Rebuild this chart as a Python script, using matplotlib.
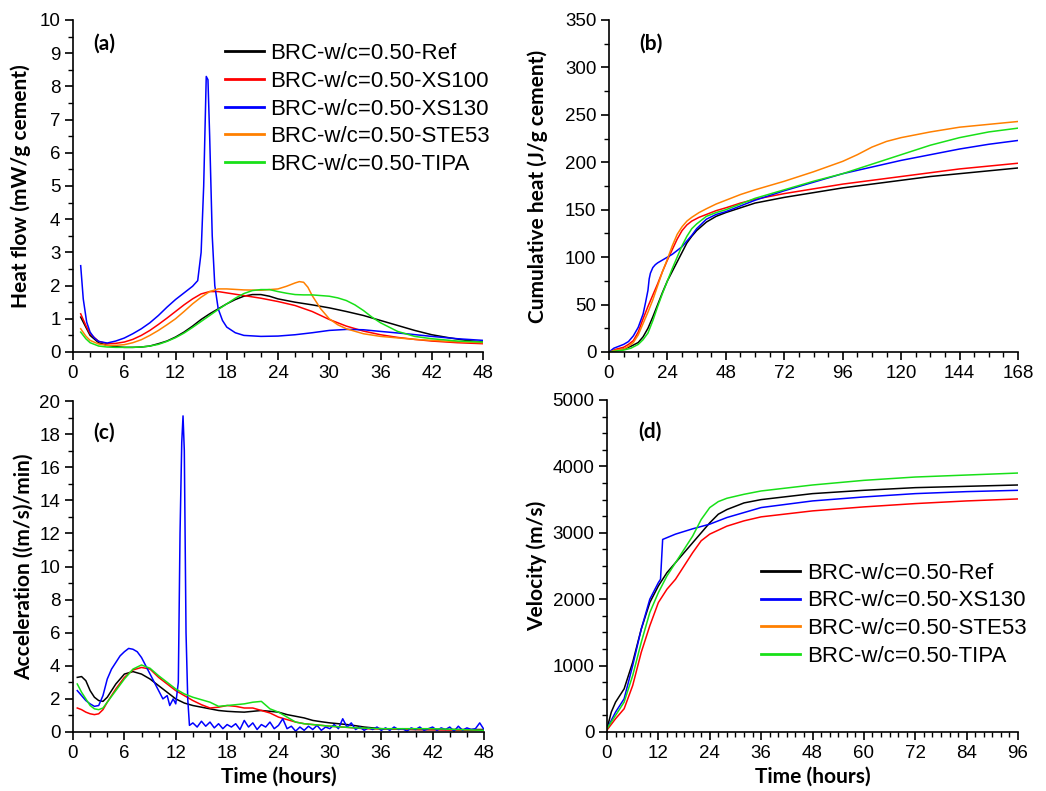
import matplotlib
matplotlib.use("Agg")
import matplotlib.pyplot as plt
from matplotlib.lines import Line2D
from matplotlib.ticker import MultipleLocator

plt.rcParams['font.family'] = ['Liberation Sans', 'DejaVu Sans']

# ---------------- data ----------------
labels5 = ["BRC-w/c=0.50-Ref", "BRC-w/c=0.50-XS100", "BRC-w/c=0.50-XS130",
           "BRC-w/c=0.50-STE53", "BRC-w/c=0.50-TIPA"]
colors = {"Ref": "#000000", "XS100": "#ff0000", "XS130": "#0000ff",
          "STE53": "#ff8000", "TIPA": "#18e018"}

# (a) heat flow
a_ref_t = [0.9,1.5,2,3,4,5,6,7,8,9,10,11,12,13,14,15,16,17,18,19,20,21,22,23,24,26,28,30,32,34,36,38,40,42,44,46,48]
a_ref_v = [1.05,0.75,0.5,0.28,0.2,0.16,0.14,0.14,0.15,0.18,0.25,0.33,0.45,0.6,0.78,0.98,1.15,1.3,1.45,1.58,1.68,1.73,1.73,1.68,1.6,1.5,1.42,1.33,1.22,1.1,0.95,0.8,0.65,0.52,0.43,0.35,0.3]
a_xs100_t = [0.9,1.5,2,3,4,5,6,7,8,9,10,11,12,13,14,15,16,17,18,20,22,24,26,28,29,30,32,34,36,38,40,42,45,48]
a_xs100_v = [1.15,0.8,0.55,0.32,0.25,0.26,0.3,0.38,0.5,0.65,0.83,1.02,1.22,1.42,1.6,1.75,1.82,1.82,1.78,1.7,1.62,1.52,1.4,1.22,1.1,0.98,0.78,0.63,0.52,0.44,0.38,0.33,0.28,0.25]
a_xs130_t = [0.9,1.2,1.6,2.0,2.5,3.0,4.0,5.0,6.0,7.0,8.0,9.0,10,11,12,13,14,14.6,15.0,15.3,15.6,15.8,16.0,16.3,16.6,17.0,17.5,18,19,20,22,24,26,28,30,32,34,36,39,42,45,48]
a_xs130_v = [2.6,1.6,0.9,0.6,0.42,0.32,0.27,0.33,0.42,0.55,0.7,0.88,1.1,1.35,1.58,1.78,1.98,2.15,3.0,5.0,8.3,8.2,6.5,3.5,2.0,1.3,0.95,0.75,0.58,0.5,0.47,0.48,0.52,0.58,0.65,0.68,0.67,0.62,0.55,0.47,0.4,0.35]
a_ste53_t = [0.9,1.5,2,3,4,5,6,7,8,9,10,11,12,13,14,15,16,17,18,20,22,24,25,26,26.5,27,27.5,28,29,30,31,32,34,36,40,44,48]
a_ste53_v = [0.7,0.48,0.35,0.24,0.2,0.2,0.22,0.28,0.37,0.5,0.65,0.82,1.0,1.22,1.45,1.65,1.82,1.9,1.9,1.87,1.86,1.9,1.98,2.08,2.12,2.1,1.95,1.7,1.3,1.0,0.82,0.7,0.55,0.47,0.38,0.32,0.28]
a_tipa_t = [0.9,1.5,2,3,4,5,6,7,8,9,10,11,12,13,14,15,16,17,18,19,20,21,22,23,24,25,26,27,28,29,30,31,32,33,34,35,36,38,40,42,45,48]
a_tipa_v = [0.6,0.4,0.28,0.18,0.15,0.14,0.14,0.14,0.15,0.18,0.23,0.32,0.43,0.57,0.74,0.92,1.1,1.28,1.45,1.62,1.76,1.85,1.88,1.88,1.82,1.77,1.73,1.72,1.72,1.7,1.68,1.63,1.55,1.42,1.25,1.05,0.88,0.62,0.47,0.4,0.33,0.3]

# (b) cumulative heat
b_ref_t = [0,3,6,9,12,14,16,18,20,22,24,26,28,30,32,34,36,40,44,48,54,60,72,84,96,108,120,132,144,156,168]
b_ref_v = [0,2,3,6,10,16,25,37,50,63,75,85,95,105,115,122,128,137,143,147,152,157,163,168,173,177,181,185,188,191,194]
b_xs100_t = [0,3,6,8,10,12,14,16,18,20,22,24,26,28,30,32,34,37,40,44,48,54,60,72,84,96,108,120,132,144,156,168]
b_xs100_v = [0,3,5,8,12,21,35,48,60,72,85,97,108,119,128,134,138,142,145,149,152,157,161,167,172,177,181,185,189,193,196,199]
b_xs130_t = [0,2,4,6,8,10,12,14,15,16,16.5,17,18,19,20,22,24,26,28,30,32,34,36,38,40,44,48,54,60,72,84,96,108,120,132,144,156,168]
b_xs130_v = [0,4,6,8,11,17,26,40,52,65,77,83,89,92,94,97,100,103,107,111,117,123,130,135,140,145,148,154,160,170,179,188,195,202,208,214,219,223]
b_ste53_t = [0,3,6,8,10,12,14,16,18,20,22,24,26,28,30,32,34,37,40,44,48,54,60,72,84,96,102,108,114,120,126,132,144,156,168]
b_ste53_v = [0,2,3,6,10,18,30,42,55,70,85,98,112,124,132,138,142,147,151,156,160,166,171,180,190,201,208,216,222,226,229,232,237,240,243]
b_tipa_t = [0,3,6,9,12,14,16,18,20,22,24,26,28,30,32,34,36,40,44,48,54,60,72,84,96,108,120,132,144,156,168]
b_tipa_v = [0,1,2,4,8,13,20,33,48,62,75,88,100,112,122,130,135,143,147,150,156,162,171,180,188,198,208,218,226,232,236]

# (c) acceleration
c_ref_t = [0.5,1,1.5,2,2.5,3,3.5,4,5,6,7,8,9,10,11,12,13,14,15,16,17,18,19,20,21,22,23,24,25,26,27,28,29,30,31,32,33,34,35,36,38,40,42,44,46,48]
c_ref_v = [3.3,3.35,3.1,2.5,2.1,1.9,1.85,2.1,2.9,3.5,3.65,3.5,3.2,2.8,2.4,2.0,1.75,1.6,1.5,1.4,1.3,1.25,1.22,1.2,1.25,1.3,1.25,1.2,1.05,0.95,0.85,0.7,0.62,0.55,0.5,0.45,0.38,0.3,0.25,0.2,0.17,0.15,0.15,0.15,0.15,0.15]
c_xs100_t = [0.5,1,1.5,2,2.5,3,3.5,4,5,6,7,8,9,10,11,12,13,14,15,16,17,18,19,20,21,22,23,24,25,26,27,28,30,32,34,36,40,44,48]
c_xs100_v = [1.45,1.35,1.2,1.1,1.05,1.1,1.35,1.8,2.6,3.3,3.75,3.9,3.8,3.3,2.9,2.5,2.2,1.9,1.65,1.45,1.5,1.6,1.55,1.45,1.45,1.3,1.15,0.9,0.75,0.6,0.5,0.45,0.35,0.28,0.2,0.18,0.15,0.12,0.1]
c_xs130_t = [0.5,1,1.5,2,2.5,3,3.5,4,4.5,5,5.5,6,6.5,7,7.5,8,8.5,9,9.5,10,10.5,11,11.3,11.7,12,12.3,12.5,12.7,12.85,13.0,13.2,13.4,13.6,
             14.0,14.5,15.0,15.5,16.0,16.5,17.0,17.5,18.0,18.5,19.0,19.5,20.0,20.5,21.0,21.5,22.0,22.5,23.0,23.5,24.0,24.5,25.0,25.5,26.0,26.5,27.0,27.5,28.0,28.5,29.0,29.5,30.0,30.5,31.0,31.5,32.0,32.5,33.0,33.5,34.0,34.5,35.0,35.5,36.0,36.5,37.0,37.5,38.0,38.5,39.0,39.5,40.0,40.5,41.0,41.5,42.0,42.5,43.0,43.5,44.0,44.5,45.0,45.5,46.0,46.5,47.0,47.5,48.0]
c_xs130_v = [2.5,2.2,1.9,1.7,1.55,1.6,2.2,3.2,3.8,4.2,4.6,4.85,5.05,5.0,4.85,4.5,4.0,3.5,3.0,2.5,2.0,2.2,1.6,2.0,1.7,3.0,12.0,17.5,19.1,17.0,6.0,2.0,0.4,
             0.55,0.3,0.65,0.35,0.6,0.25,0.5,0.2,0.45,0.3,0.5,0.15,0.7,0.3,0.55,0.15,0.45,0.3,0.6,0.2,0.4,0.8,0.2,0.35,0.05,0.3,0.1,0.35,0.15,0.4,0.1,0.3,0.2,0.45,0.2,0.8,0.3,0.55,0.15,0.3,0.1,0.25,0.15,0.3,0.1,0.25,0.1,0.3,0.15,0.2,0.05,0.25,0.15,0.3,0.1,0.2,0.3,0.1,0.25,0.15,0.3,0.05,0.35,0.1,0.25,0.15,0.2,0.55,0.15]
c_tipa_t = [0.5,1,1.5,2,2.5,3,3.5,4,5,6,7,8,9,10,11,12,13,14,15,16,17,18,19,20,21,22,23,24,25,26,27,28,30,33,36,39,42,45,48]
c_tipa_v = [2.9,2.4,2.0,1.6,1.4,1.35,1.45,1.8,2.5,3.2,3.8,4.05,3.85,3.4,3.0,2.6,2.3,2.1,1.95,1.8,1.55,1.6,1.65,1.7,1.8,1.85,1.4,1.2,0.9,0.6,0.5,0.45,0.35,0.25,0.2,0.2,0.2,0.15,0.1]

# (d) velocity
d_ref_t = [0,1,2,4,6,8,10,12,14,16,18,20,22,24,26,28,32,36,48,60,72,84,96]
d_ref_v = [50,300,450,650,1050,1550,1950,2200,2400,2550,2700,2850,3000,3150,3280,3350,3450,3500,3590,3640,3680,3700,3720]
d_xs130_t = [0,2,4,6,8,10,12,12.5,13,16,20,24,28,36,48,60,72,84,96]
d_xs130_v = [50,300,500,1000,1550,2000,2250,2300,2900,2980,3060,3130,3230,3380,3480,3540,3590,3620,3640]
d_ste53_t = [0,2,4,6,8,10,12,14,16,18,20,22,24,28,32,36,48,60,72,84,96]
d_ste53_v = [30,200,350,700,1200,1600,1950,2150,2300,2500,2700,2880,2980,3100,3180,3240,3330,3390,3440,3480,3510]
d_tipa_t = [0,2,4,6,8,10,12,14,16,18,20,22,24,26,28,32,36,48,60,72,84,96]
d_tipa_v = [50,250,450,850,1350,1800,2100,2350,2550,2750,2950,3200,3380,3470,3520,3580,3630,3720,3790,3840,3870,3900]

W, H = 1046, 791
fig = plt.figure(figsize=(W/100, H/100), dpi=100)

def px_axes(l, t, r, b):
    return fig.add_axes([l/W, 1 - b/H, (r-l)/W, (b-t)/H])

axA = px_axes(73, 20, 483, 352)
axB = px_axes(609, 20, 1018, 352)
axC = px_axes(73, 401, 484, 732)
axD = px_axes(607, 400, 1018, 732)

lw = 1.1
bold_family = ['Lato', 'DejaVu Sans']
label_font = dict(family=bold_family, fontweight='bold', fontsize=15)
panel_font = dict(family=bold_family, fontweight='bold', fontsize=15)

def style(ax, xmax, xmaj, xmin, ymax, ymaj, ymin):
    ax.set_xlim(0, xmax)
    ax.set_ylim(0, ymax)
    ax.xaxis.set_major_locator(MultipleLocator(xmaj))
    ax.xaxis.set_minor_locator(MultipleLocator(xmin))
    ax.yaxis.set_major_locator(MultipleLocator(ymaj))
    ax.yaxis.set_minor_locator(MultipleLocator(ymin))
    for s in ['top', 'right']:
        ax.spines[s].set_visible(False)
    for s in ['left', 'bottom']:
        ax.spines[s].set_linewidth(1.2)
    ax.tick_params(which='major', direction='out', length=6, width=1.2, labelsize=13.5, pad=3)
    ax.tick_params(which='minor', direction='out', length=3.5, width=1.0)

leg_kw = dict(loc='upper left', frameon=False, fontsize=16, handlelength=1.75,
              handletextpad=0.3, labelspacing=0.3, borderpad=0, borderaxespad=0)

# (a)
axA.plot(a_ref_t, a_ref_v, color=colors["Ref"], lw=lw, label=labels5[0])
axA.plot(a_xs100_t, a_xs100_v, color=colors["XS100"], lw=lw, label=labels5[1])
axA.plot(a_xs130_t, a_xs130_v, color=colors["XS130"], lw=lw, label=labels5[2])
axA.plot(a_ste53_t, a_ste53_v, color=colors["STE53"], lw=lw, label=labels5[3])
axA.plot(a_tipa_t, a_tipa_v, color=colors["TIPA"], lw=lw, label=labels5[4])
style(axA, 48, 6, 2, 10, 1, 0.5)
axA.set_ylabel("Heat flow (mW/g cement)", labelpad=6, **label_font)
axA.text(0.05, 0.93, "(a)", transform=axA.transAxes, va='center', **panel_font)
legA = axA.legend(bbox_to_anchor=(0.37, 0.93), **leg_kw)
for h in legA.get_lines():
    h.set_linewidth(2)

# (b)
axB.plot(b_ref_t, b_ref_v, color=colors["Ref"], lw=lw)
axB.plot(b_xs100_t, b_xs100_v, color=colors["XS100"], lw=lw)
axB.plot(b_xs130_t, b_xs130_v, color=colors["XS130"], lw=lw)
axB.plot(b_ste53_t, b_ste53_v, color=colors["STE53"], lw=lw)
axB.plot(b_tipa_t, b_tipa_v, color=colors["TIPA"], lw=lw)
style(axB, 168, 24, 6, 350, 50, 25)
axB.set_ylabel("Cumulative heat (J/g cement)", labelpad=12, **label_font)
axB.text(0.075, 0.93, "(b)", transform=axB.transAxes, va='center', **panel_font)

# (c)
axC.plot(c_ref_t, c_ref_v, color=colors["Ref"], lw=lw)
axC.plot(c_xs100_t, c_xs100_v, color=colors["XS100"], lw=lw)
axC.plot(c_xs130_t, c_xs130_v, color=colors["XS130"], lw=lw)
axC.plot(c_tipa_t, c_tipa_v, color=colors["TIPA"], lw=lw)
style(axC, 48, 6, 2, 20, 2, 1)
axC.set_ylabel("Acceleration ((m/s)/min)", **label_font)
axC.set_xlabel("Time (hours)", labelpad=4, **label_font)
axC.text(0.05, 0.905, "(c)", transform=axC.transAxes, va='center', **panel_font)

# (d)
axD.plot(d_ref_t, d_ref_v, color=colors["Ref"], lw=lw)
axD.plot(d_xs130_t, d_xs130_v, color=colors["XS130"], lw=lw)
axD.plot(d_ste53_t, d_ste53_v, color=colors["XS100"], lw=lw)
axD.plot(d_tipa_t, d_tipa_v, color=colors["TIPA"], lw=lw)
style(axD, 96, 12, 2, 5000, 1000, 250)
axD.set_ylabel("Velocity (m/s)", **label_font)
axD.set_xlabel("Time (hours)", labelpad=4, **label_font)
axD.text(0.075, 0.905, "(d)", transform=axD.transAxes, va='center', **panel_font)
handlesD = [Line2D([], [], color=colors[k], lw=2) for k in ["Ref", "XS130", "STE53", "TIPA"]]
labelsD = [labels5[0], labels5[2], labels5[3], labels5[4]]
axD.legend(handlesD, labelsD, bbox_to_anchor=(0.375, 0.51), **leg_kw)

fig.savefig("out.png", dpi=100)
